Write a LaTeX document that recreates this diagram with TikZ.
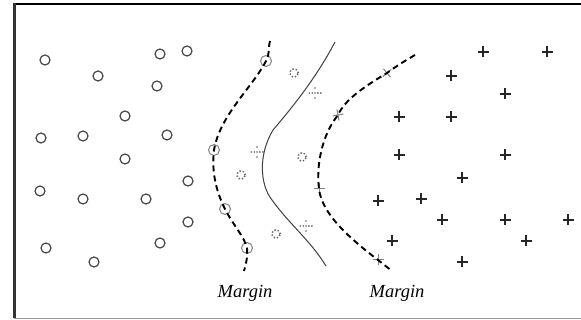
\documentclass[tikz,border=0pt]{standalone}
\usepackage{fontspec}
\setmainfont{Liberation Serif}
\begin{document}
\begin{tikzpicture}[x=1pt,y=-1pt,
  negmark/.style={circle,draw=black!72,line width=1.2pt,minimum size=10pt,inner sep=0pt},
  negsv/.style={circle,draw=black!45,line width=1.1pt,minimum size=11pt,inner sep=0pt},
  posmark/.style={inner sep=0pt,minimum size=12pt,
    path picture={\draw[black!85,line width=1.1pt]
      ([xshift=-5.5pt]path picture bounding box.center) -- ([xshift=5.5pt]path picture bounding box.center)
      ([yshift=-5.5pt]path picture bounding box.center) -- ([yshift=5.5pt]path picture bounding box.center);}},
  possv/.style={inner sep=0pt,minimum size=12pt,
    path picture={\draw[black!50,line width=1pt]
      ([xshift=-5.5pt]path picture bounding box.center) -- ([xshift=5.5pt]path picture bounding box.center)
      ([yshift=-5.5pt]path picture bounding box.center) -- ([yshift=5.5pt]path picture bounding box.center);}},
  dcirc/.style={circle,draw=black!60,line width=1.5pt,dash pattern=on 1.4pt off 2pt,minimum size=8.5pt,inner sep=0pt},
  dplus/.style={inner sep=0pt,minimum size=14pt,
    path picture={\foreach \dx/\dy in {0/0,-2.8/0,-5.8/0,2.8/0,5.8/0,0/-5,0/5}
      \fill[black!60] ([xshift=\dx pt,yshift=-\dy pt]path picture bounding box.center) circle (0.95pt);}},
  marginline/.style={line width=1.9pt,dash pattern=on 6pt off 4pt},
  boundary/.style={line width=1pt,black!75},
  lbl/.style={font=\itshape\fontsize{18.5}{20}\selectfont,inner sep=0pt}]
\useasboundingbox (0,0) rectangle (581,320);
\fill[white] (0,0) rectangle (581,320);

% frame
\draw[black!40,line width=1pt] (14,318.5) -- (581,318.5);
\draw[black,line width=2pt] (14,4) -- (581,4);
\draw[black!80,line width=3pt] (14.5,3) -- (14.5,318);

% negative class
\foreach \px/\py [count=\i] in {45/60,98/76,160/54,187/51,157/86,125/116,41/138,83/136,167/135,
  125/159,40/191,83/199,146/199,188/181,188/222,46/248,94/262,160/243}
  \node[negmark] (n\i) at (\px,\py) {};

% positive class
\foreach \px/\py [count=\i] in {483/52,547/52,451/76,505/94,399/117,451/117,399/155,505/155,
  462/178,378/201,421/199,442/220,505/220,568/220,392/241,526/241,462/262}
  \node[posmark] (p\i) at (\px,\py) {};

% dotted samples between the margins
\foreach \px/\py [count=\i] in {294/73,302/157,241/175,276/234}
  \node[dcirc] (dc\i) at (\px,\py) {};
\foreach \px/\py [count=\i] in {315/93,257/152,306/226}
  \node[dplus] (dp\i) at (\px,\py) {};

% support vectors on the margins
\node[negsv] (s1) at (266,61) {};
\node[negsv] (s2) at (214,150) {};
\node[negsv] (s3) at (225,209) {};
\node[negsv] (s4) at (247,248) {};
\node[possv,rotate=40] (t1) at (387,73) {};
\node[possv,rotate=10] (t2) at (338,115) {};
\node[possv] (t3) at (319,189) {};
\node[possv] (t4) at (378,260) {};

\coordinate (la) at (270,41);
\coordinate (lz) at (244,271);
\coordinate (ra) at (415,55);
\coordinate (rz) at (392,271);
\coordinate (ba) at (335,42);
\coordinate (bz) at (326,266);

% margin curves and decision boundary
\draw[marginline] (la) to[out=-105,in=60] (s1.center)
  .. controls (252,88) and (220,115) .. (s2.center)
  .. controls (211,175) and (218,195) .. (s3.center)
  .. controls (233,225) and (244,236) .. (s4.center)
  to[out=-85,in=75] (lz);
\draw[boundary] (ba) .. controls (315,80) and (290,110) .. (273,130)
  .. controls (258,155) and (260,185) .. (272,200)
  .. controls (290,225) and (310,240) .. (bz);
\draw[marginline] (ra) .. controls (403,62) and (395,67) .. (t1.center)
  .. controls (362,88) and (345,100) .. (t2.center)
  .. controls (322,135) and (316,165) .. (t3.center)
  .. controls (322,215) and (352,240) .. (t4.center)
  -- (rz);

\node[lbl] (m1) at (245,293) {Margin};
\node[lbl] (m2) at (397,293) {Margin};
\end{tikzpicture}
\end{document}
